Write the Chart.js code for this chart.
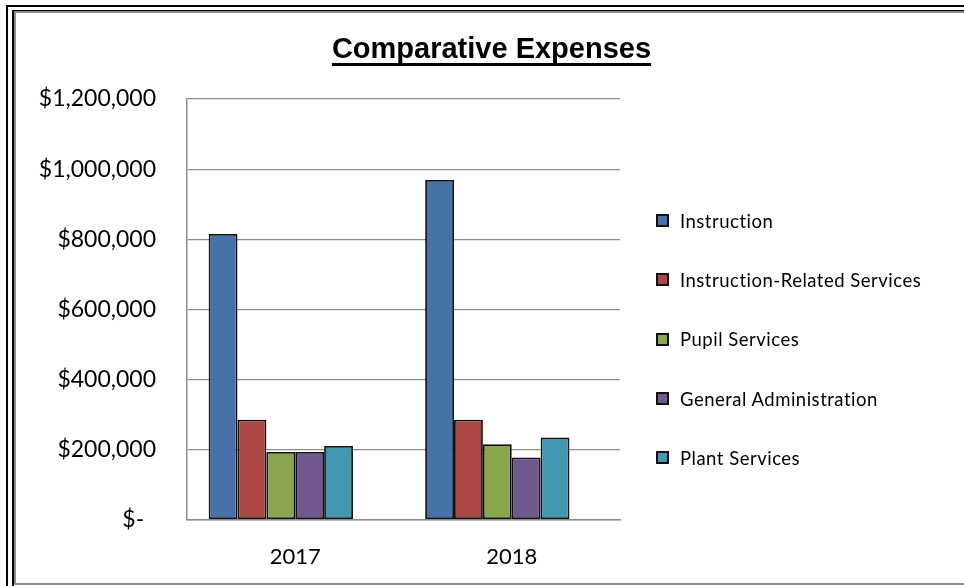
<!DOCTYPE html>
<html>
<head>
<meta charset="utf-8">
<title>Comparative Expenses</title>
<script src="https://cdn.jsdelivr.net/npm/chart.js@4.4.1/dist/chart.umd.min.js"></script>
<style>
	html, body { margin: 0; padding: 0; width: 964px; height: 586px; overflow: hidden; background: #fff; }
	.frame { position: absolute; }
	#frameOuter { left: 6px; top: 5px; width: 2000px; height: 2000px; border-left: 2px solid #000; border-top: 2px solid #000; }
	#frameMid { left: 12px; top: 10px; width: 2000px; height: 2000px; border-left: 2px solid #000; border-top: 1px solid #000; }
	#frameInner { left: 14px; top: 11px; width: 2000px; height: 570px; border: 2px solid #8c8c8c; border-right: none; background: #fff; }
	#chartTitle {
		position: absolute; left: 0; top: 31px; width: 983px; text-align: center;
		font: bold 29px "Liberation Sans", Arial, sans-serif; line-height: 34px; color: #000;
		text-decoration: underline; text-decoration-thickness: 2.5px; text-underline-offset: 5px;
		text-decoration-skip-ink: none;
	}
	#chartLegend { position: absolute; left: 656px; top: 191px; font: 18.5px Lato, sans-serif; letter-spacing: 0.5px; color: #000; }
	.chart-legend { list-style: none; margin: 0; padding: 0; }
	.chart-legend li { height: 59.3px; display: flex; align-items: center; white-space: nowrap; }
	.chart-legend li span.box { width: 13px; height: 13px; box-sizing: border-box; border: 2px solid #111; margin-right: 11px; }
	#expensesChart { position: absolute; left: 0; top: 0; }
</style>
</head>
<body>
<div class="frame" id="frameOuter"></div>
<div class="frame" id="frameMid"></div>
<div class="frame" id="frameInner"></div>
<canvas id="expensesChart" width="964" height="611"></canvas>
<div id="chartTitle">Comparative Expenses</div>
<div id="chartLegend"></div>

<script>
var years 			= ['2017', '2018'];
var seriesNames 	= ['Instruction', 'Instruction-Related Services', 'Pupil Services', 'General Administration', 'Plant Services'];
var seriesColors 	= ['#4572A8', '#AA4744', '#8AA64F', '#71588F', '#4298B0'];

var instruction 	= [815000, 969000];
var instrRelated 	= [285000, 285000];
var pupilServices 	= [193000, 215000];
var generalAdmin 	= [193000, 177000];
var plantServices 	= [210000, 234000];
// the source sheet has a sixth, empty series that keeps its slot in each group
var emptySeries 	= [null, null];

var yTicks 			= [0, 200000, 400000, 600000, 800000, 1000000, 1200000];

var seriesValues = [instruction, instrRelated, pupilServices, generalAdmin, plantServices, emptySeries];

var datasets = seriesValues.map(function(values, i){
	return {
		label: seriesNames[i] || '',
		data: values,
		backgroundColor: seriesColors[i] || 'rgba(0,0,0,0)',
		borderColor: '#111',
		borderWidth: 1.8,
		borderSkipped: false,
		barPercentage: 1,
		categoryPercentage: 0.8
	};
});

function money(v){
	if (v === 0) return '$-  ';
	return '$' + v.toLocaleString('en-US');
}

var gridGray = '#8c8c8c';

var ctx = document.getElementById('expensesChart').getContext('2d');
var expensesChart = new Chart(ctx, {
	type: 'bar',
	data: { labels: years, datasets: datasets },
	options: {
		responsive: false,
		animation: false,
		layout: { padding: { left: 17, right: 344, top: 99, bottom: 17 } },
		plugins: {
			legend: { display: false },
			title: { display: false },
			tooltip: { enabled: false }
		},
		scales: {
			x: {
				grid: { display: false, drawTicks: false },
				border: { display: true, color: gridGray, width: 1.5 },
				ticks: { color: '#000', padding: 24, font: { family: 'Lato', size: 22 } }
			},
			y: {
				min: 0,
				max: 1200000,
				afterFit: function(scale){ scale.width = 170; },
				afterBuildTicks: function(scale){
					scale.ticks = yTicks.map(function(v){ return { value: v }; });
				},
				grid: { color: gridGray, lineWidth: 1.2, drawTicks: false },
				border: { display: true, color: gridGray, width: 1.5 },
				ticks: {
					color: '#000',
					padding: 31,
					font: { family: 'Lato', size: 23 },
					callback: function(v){ return money(v); }
				}
			}
		}
	}
});

// html legend, only the named series
var legendHtml = [];
legendHtml.push('<ul class="chart-legend">');
for (var i = 0; i < seriesNames.length; i++) {
	legendHtml.push('<li>');
	legendHtml.push('<span class="box" style="background-color:' + seriesColors[i] + '"></span>');
	legendHtml.push('<span>' + seriesNames[i] + '</span>');
	legendHtml.push('</li>');
}
legendHtml.push('</ul>');
document.getElementById('chartLegend').innerHTML = legendHtml.join('');
</script>
</body>
</html>
